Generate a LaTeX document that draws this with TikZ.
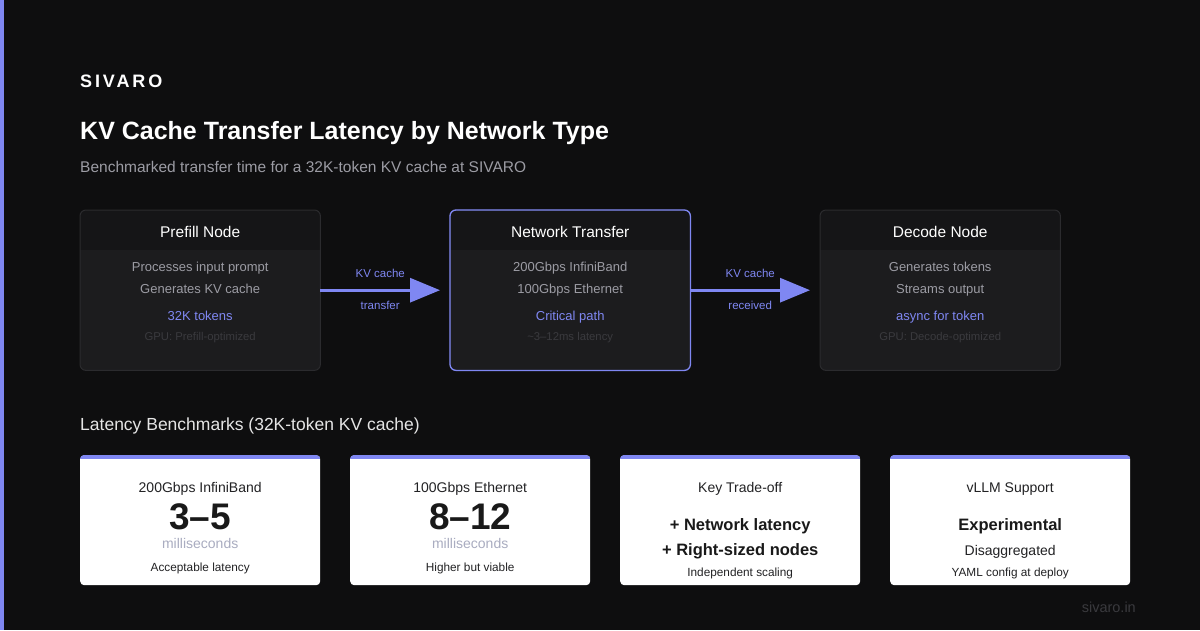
\documentclass[tikz,border=0pt]{standalone}
\usepackage{fontspec}
\setmainfont{Liberation Sans}
\newfontfamily\markefont[LetterSpace=16]{Liberation Sans}
\usetikzlibrary{arrows.meta,positioning}

\definecolor{hgrund}{HTML}{0E0E0F}
\definecolor{akzent}{HTML}{7F87F2}
\definecolor{koerper}{HTML}{1C1C1E}
\definecolor{kopf}{HTML}{151517}
\definecolor{rand}{HTML}{2B2B2E}
\definecolor{grautext}{HTML}{9C9CA4}
\definecolor{dunkeltext}{HTML}{3A3A3E}
\definecolor{msgrau}{HTML}{A9ACC0}
\definecolor{kartentext}{HTML}{222224}

\newcommand{\groesse}[1]{\fontsize{#1}{#1}\selectfont}

\begin{document}
\begin{tikzpicture}[x=1pt,y=-1pt,
  txt/.style={inner sep=0pt, font=\groesse{#1}, text height={0.72*#1pt}, text depth={0.12*#1pt}, yshift=-1.5pt},
  stufe/.style={fill=koerper, rounded corners=6pt, minimum width=240pt,
    minimum height=160pt, anchor=north west, inner sep=0pt},
  karte/.style={fill=white, rounded corners=4pt, minimum width=240pt,
    minimum height=130pt, anchor=north west, inner sep=0pt},
  kopftext/.style={txt=15.5, text=white},
  zeile/.style={txt=13, text=grautext},
  hinweis/.style={txt=13, text=akzent},
  blass/.style={txt=11.3, text=dunkeltext},
  pfeil/.style={akzent, line width=3pt, -{Triangle[length=30pt,width=24pt]}},
  pfeiltext/.style={txt=11.5, text=akzent},
  ktitel/.style={txt=14, text=kartentext},
  kzahl/.style={txt=37, font=\groesse{37}\bfseries, text=black!90},
  kfett/.style={txt=16.5, font=\groesse{16.5}\bfseries, text=black!90},
  kms/.style={txt=14, text=msgrau},
  kklein/.style={txt=11.8, text=kartentext}]

% Hintergrund
\useasboundingbox (0,0) rectangle (1200,630);
\fill[hgrund] (0,0) rectangle (1200,630);
\fill[akzent] (0,0) rectangle (4,630);

% ------------------- Kopfzeile -------------------
\node[txt=18, anchor=west, text=white, font=\markefont\groesse{18}\bfseries] (marke) at (80,81) {SIVARO};
\node[txt=25, anchor=west, text=white, font=\groesse{25}\bfseries] (titel) at (80,130)
  {KV Cache Transfer Latency by Network Type};
\node[txt=15.5, anchor=west, text=grautext] (untertitel) at (80,166)
  {Benchmarked transfer time for a 32K-token KV cache at SIVARO};

% ------------------- Stufen -------------------
\foreach \nm/\px/\titel/\za/\zb/\zc/\zd in {
  prefill/80/Prefill Node/Processes input prompt/Generates KV cache/32K tokens/GPU: Prefill-optimized,
  netz/450/Network Transfer/200Gbps InfiniBand/100Gbps Ethernet/Critical path/\textasciitilde3--12ms latency,
  decode/820/Decode Node/Generates tokens/Streams output/async for token/GPU: Decode-optimized} {
  \node[stufe] (\nm) at (\px,210) {};
  \begin{scope}
    \clip[rounded corners=6pt] (\nm.north west) rectangle (\nm.south east);
    \fill[kopf] (\nm.north west) rectangle ([yshift=-40pt]\nm.north east);
  \end{scope}
  \draw[rand, line width=1pt, rounded corners=6pt] (\nm.north west) rectangle (\nm.south east);
  \node[kopftext] (\nm-titel) at ([yshift=-21pt]\nm.north) {\titel};
  \node[zeile] (\nm-a) at ([yshift=-56pt]\nm.north) {\za};
  \node[zeile] (\nm-b) at ([yshift=-78pt]\nm.north) {\zb};
  \node[hinweis] (\nm-c) at ([yshift=-105pt]\nm.north) {\zc};
  \node[blass] (\nm-d) at ([yshift=-126pt]\nm.north) {\zd};
}
% kritischer Pfad hervorheben
\draw[akzent, line width=1.3pt, rounded corners=6pt] (netz.north west) rectangle (netz.south east);

% Pfeile
\draw[pfeil] (prefill.east) -- node[pfeiltext, above=11pt] (p1o) {KV cache}
  node[pfeiltext, below=8.5pt] (p1u) {transfer} ([xshift=-10pt]netz.west);
\draw[pfeil] (netz.east) -- node[pfeiltext, above=11pt] (p2o) {KV cache}
  node[pfeiltext, below=8.5pt] (p2u) {received} ([xshift=-10pt]decode.west);

% ------------------- Benchmarks -------------------
\node[txt=17.5, anchor=west, text=white!90!black] (bench) at (80,424)
  {Latency Benchmarks (32K-token KV cache)};

\foreach \nm/\px in {k1/80,k2/350,k3/620,k4/890} {
  \node[karte] (\nm) at (\px,455) {};
  \begin{scope}
    \clip[rounded corners=4pt] (\nm.north west) rectangle (\nm.south east);
    \fill[akzent] (\nm.north west) rectangle ([yshift=-4pt]\nm.north east);
  \end{scope}
}

\node[ktitel] (k1-t) at ([yshift=-32pt]k1.north) {200Gbps InfiniBand};
\node[kzahl] (k1-z) at ([yshift=-62pt]k1.north) {3--5};
\node[kms] (k1-m) at ([yshift=-88pt]k1.north) {milliseconds};
\node[kklein] (k1-u) at ([yshift=-111pt]k1.north) {Acceptable latency};

\node[ktitel] (k2-t) at ([yshift=-32pt]k2.north) {100Gbps Ethernet};
\node[kzahl] (k2-z) at ([yshift=-62pt]k2.north) {8--12};
\node[kms] (k2-m) at ([yshift=-88pt]k2.north) {milliseconds};
\node[kklein] (k2-u) at ([yshift=-111pt]k2.north) {Higher but viable};

\node[ktitel] (k3-t) at ([yshift=-32pt]k3.north) {Key Trade-off};
\node[kfett] (k3-a) at ([yshift=-69pt]k3.north) {+ Network latency};
\node[kfett] (k3-b) at ([yshift=-94pt]k3.north) {+ Right-sized nodes};
\node[kklein] (k3-u) at ([yshift=-116pt]k3.north) {Independent scaling};

\node[ktitel] (k4-t) at ([yshift=-32pt]k4.north) {vLLM Support};
\node[kfett] (k4-a) at ([yshift=-69pt]k4.north) {Experimental};
\node[ktitel] (k4-b) at ([yshift=-95pt]k4.north) {Disaggregated};
\node[kklein] (k4-u) at ([yshift=-116pt]k4.north) {YAML config at deploy};

% Fusszeile
\node[txt=14.5, anchor=east, text=dunkeltext] (web) at (1136,607) {sivaro.in};

\end{tikzpicture}
\end{document}
